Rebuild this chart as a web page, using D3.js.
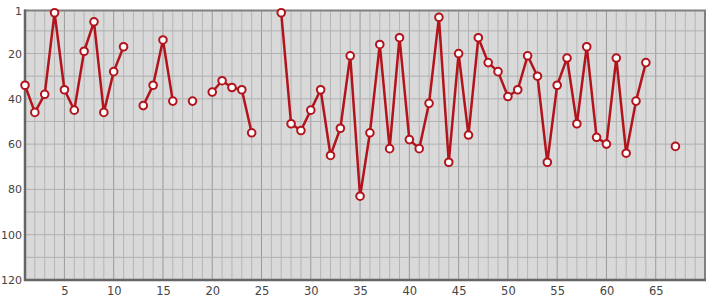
<!DOCTYPE html>
<html><head><meta charset="utf-8">
<script src="https://cdn.jsdelivr.net/npm/d3@7/dist/d3.min.js"></script>
<style>body{margin:0;background:#fff}svg{display:block}text{font-family:"DejaVu Sans",sans-serif;fill:#444}</style>
</head><body><svg id="c" width="715" height="300"></svg>
<script>
const xs = d3.range(1, 68);
const ranks = [34,46,38,2,36,45,19,6,46,28,17,null,43,34,14,41,null,41,null,37,32,35,36,55,null,null,2,51,54,45,36,65,53,21,83,55,16,62,13,58,62,42,4,68,20,56,13,24,28,39,36,21,30,68,34,22,51,17,57,60,22,64,41,24,null,null,61];
const yTicks = [1,20,40,60,80,100,120];
const xTicks = [5,10,15,20,25,30,35,40,45,50,55,60,65];

const data = xs.map((x,i)=>({x, v: ranks[i]}));
const svg = d3.select('#c');
const L=25,R=705,T=10.5,B=280;
const x = d3.scaleLinear().domain([1,70]).range([L,R]);
const y = d3.scaleLinear().domain([1,120]).range([T,B]);

svg.append('rect').attr('x',L).attr('y',T).attr('width',R-L).attr('height',B-T).attr('fill','#d9d9d9');
const g = svg.append('g');
g.selectAll('.vg').data(d3.range(2,70)).join('line')
 .attr('x1',d=>x(d)).attr('x2',d=>x(d)).attr('y1',T).attr('y2',B)
 .attr('stroke',d=>d%5===0?'#9a9a9a':'#b5b5b5').attr('stroke-width',1);
g.selectAll('.hg').data(d3.range(10,120,10)).join('line')
 .attr('x1',L).attr('x2',R).attr('y1',d=>y(d)).attr('y2',d=>y(d))
 .attr('stroke','#b0b0b0').attr('stroke-width',1);
svg.append('rect').attr('x',L).attr('y',T).attr('width',R-L).attr('height',B-T)
 .attr('fill','none').attr('stroke','#808080').attr('stroke-width',2);
svg.append('line').attr('x1',L).attr('x2',L).attr('y1',T-1).attr('y2',B+1).attr('stroke','#666').attr('stroke-width',2.5);
svg.append('line').attr('x1',L-1).attr('x2',R+1).attr('y1',B).attr('y2',B).attr('stroke','#666').attr('stroke-width',2.5);

const ya = svg.append('g').attr('transform',`translate(${L},0)`)
 .call(d3.axisLeft(y).tickValues(yTicks).tickSize(0).tickPadding(3));
ya.select('.domain').remove();
ya.selectAll('text').style('font-size','11px').style('font-family','DejaVu Sans, sans-serif').attr('fill','#444');
const xa = svg.append('g').attr('transform',`translate(0,${B})`)
 .call(d3.axisBottom(x).tickValues(xTicks).tickSize(0).tickPadding(7));
xa.select('.domain').remove();
xa.selectAll('text').style('font-size','11.5px').style('font-family','DejaVu Sans, sans-serif').attr('fill','#444');

const line = d3.line().defined(d=>d.v!=null).x(d=>x(d.x)).y(d=>y(d.v));
svg.append('path').datum(data).attr('d',line).attr('fill','none')
 .attr('stroke','#b3141c').attr('stroke-width',2.5).attr('stroke-linejoin','round');
svg.selectAll('.pt').data(data.filter(d=>d.v!=null)).join('circle')
 .attr('cx',d=>x(d.x)).attr('cy',d=>y(d.v)).attr('r',3.8)
 .attr('fill','#fff').attr('stroke','#b3141c').attr('stroke-width',2);
</script></body></html>
